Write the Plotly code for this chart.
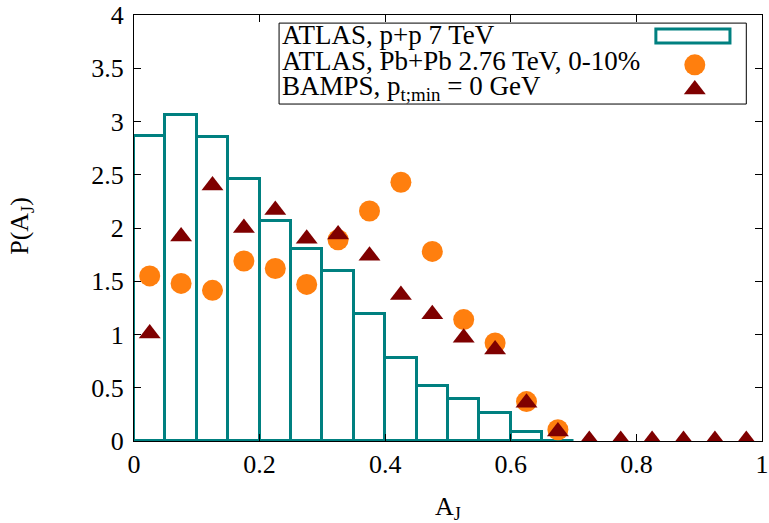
import plotly.graph_objects as go

# Data
bin_centers = [0.025, 0.075, 0.125, 0.175, 0.225, 0.275, 0.325, 0.375, 0.425,
               0.475, 0.525, 0.575, 0.625, 0.675]
pp_values = [2.86, 3.06, 2.85, 2.46, 2.07, 1.80, 1.60, 1.195, 0.78, 0.52,
             0.39, 0.26, 0.08, 0.0]

pbpb_x = [0.025, 0.075, 0.125, 0.175, 0.225, 0.275, 0.325, 0.375, 0.425,
          0.475, 0.525, 0.575, 0.625, 0.675]
pbpb_y = [1.55, 1.48, 1.415, 1.69, 1.62, 1.47, 1.89, 2.16, 2.43, 1.78,
          1.14, 0.92, 0.37, 0.106]

bamps_x = [0.025, 0.075, 0.125, 0.175, 0.225, 0.275, 0.325, 0.375, 0.425,
           0.475, 0.525, 0.575, 0.625, 0.675, 0.725, 0.775, 0.825, 0.875,
           0.925, 0.975]
bamps_y = [1.01, 1.92, 2.40, 2.00, 2.17, 1.90, 1.94, 1.74, 1.37, 1.19,
           0.97, 0.86, 0.36, 0.09, 0.01, 0.01, 0.01, 0.01, 0.01, 0.01]

legend_labels = ["ATLAS, p+p 7 TeV",
                 "ATLAS, Pb+Pb 2.76 TeV, 0-10%",
                 "BAMPS, p<sub>t;min</sub> = 0 GeV"]

x_ticks = [0, 0.2, 0.4, 0.6, 0.8, 1]
x_ticklabels = ["0", "0.2", "0.4", "0.6", "0.8", "1"]
y_ticks = [0, 0.5, 1, 1.5, 2, 2.5, 3, 3.5, 4]
y_ticklabels = ["0", "0.5", "1", "1.5", "2", "2.5", "3", "3.5", "4"]
x_title = "A<sub>J</sub>"
y_title = "P(A<sub>J</sub>)"

TEAL = "#008080"
ORANGE = "#ff7f0e"
DARKRED = "#7f0000"
FONT = "Liberation Serif"
FS = 26

fig = go.Figure()
fig.add_trace(go.Bar(x=bin_centers, y=pp_values, width=0.05,
                     marker=dict(color="rgba(0,0,0,0)",
                                 line=dict(color=TEAL, width=3)),
                     showlegend=False))
fig.add_trace(go.Scatter(x=pbpb_x, y=pbpb_y, mode="markers",
                         marker=dict(symbol="circle", size=21, color=ORANGE),
                         showlegend=False))
fig.add_trace(go.Scatter(x=bamps_x, y=bamps_y, mode="markers",
                         marker=dict(symbol="triangle-up", size=19, color=DARKRED),
                         showlegend=False))

# custom legend symbols on overlay axes (0..1 over the plot area)
fig.add_trace(go.Scatter(x=[0.893], y=[0.883], mode="markers", xaxis="x2", yaxis="y2",
                         marker=dict(symbol="circle", size=21, color=ORANGE),
                         showlegend=False, hoverinfo="skip"))
fig.add_trace(go.Scatter(x=[0.893], y=[0.825], mode="markers", xaxis="x2", yaxis="y2",
                         marker=dict(symbol="triangle-up", size=19, color=DARKRED),
                         showlegend=False, hoverinfo="skip"))

axis_common = dict(showline=True, linecolor="black", linewidth=1, mirror="ticks",
                   ticks="inside", ticklen=7, tickcolor="black", showgrid=False,
                   zeroline=False, automargin=False,
                   tickfont=dict(family=FONT, size=FS, color="black"))

fig.update_layout(
    width=769, height=523,
    margin=dict(l=134, r=7, t=15, b=82),
    plot_bgcolor="white", paper_bgcolor="white",
    bargap=0,
    xaxis=dict(range=[0, 1], tickvals=x_ticks, ticktext=x_ticklabels, **axis_common),
    yaxis=dict(range=[0, 4], tickvals=y_ticks, ticktext=y_ticklabels,
               ticklabelstandoff=4, **axis_common),
    xaxis2=dict(overlaying="x", range=[0, 1], visible=False, fixedrange=True),
    yaxis2=dict(overlaying="y", range=[0, 1], visible=False, fixedrange=True),
    showlegend=False,
)

# axis titles
fig.add_annotation(text=x_title, xref="paper", yref="paper", x=0.5, y=-0.158,
                   xanchor="center", yanchor="middle", showarrow=False,
                   font=dict(family=FONT, size=FS, color="black"))
fig.add_annotation(text=y_title, xref="paper", yref="paper", x=-0.18, y=0.505,
                   xanchor="center", yanchor="middle", showarrow=False, textangle=-90,
                   font=dict(family=FONT, size=FS, color="black"))

# legend box
fig.add_shape(type="rect", xref="paper", yref="paper", x0=0.231, x1=0.975, y0=0.791, y1=0.981,
              line=dict(color="black", width=1), fillcolor="white", layer="below")
fig.add_shape(type="rect", xref="paper", yref="paper", x0=0.831, x1=0.949, y0=0.934, y1=0.967,
              line=dict(color=TEAL, width=3), fillcolor="rgba(0,0,0,0)")

for lbl, yy in zip(legend_labels, [0.952, 0.892, 0.829]):
    fig.add_annotation(text=lbl, xref="paper", yref="paper", x=0.233, y=yy,
                       xanchor="left", yanchor="middle", showarrow=False,
                       font=dict(family=FONT, size=27, color="black"))

fig.write_html("out.html")
